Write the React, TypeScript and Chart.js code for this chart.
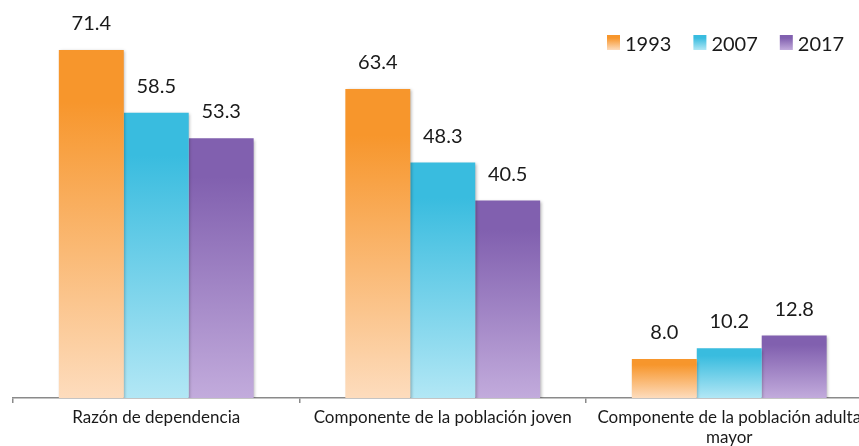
import React, { useEffect, useRef } from "react";
import { Chart, registerables } from "chart.js";

Chart.register(...registerables);

const categories: (string | string[])[] = [
  "Razón de dependencia",
  "Componente de la población joven",
  ["Componente de la población adulta", "mayor"],
];
const seriesLabels = ["1993", "2007", "2017"];
const values1993 = [71.4, 63.4, 8.0];
const values2007 = [58.5, 48.3, 10.2];
const values2017 = [53.3, 40.5, 12.8];
const yMin = 0;
const yMax = 80;

const palette = [
  { top: "#F7962C", bottom: "#FDDCBD" },
  { top: "#39BCDF", bottom: "#B2E7F5" },
  { top: "#8160AF", bottom: "#C2ABDC" },
];

const FONT = "Lato, 'Liberation Sans', sans-serif";

function gradientFill(idx: number) {
  return (ctx: any) => {
    const chart = ctx.chart;
    const y = chart.scales?.y;
    const c = palette[idx];
    if (!y || ctx.type !== "data") return c.top;
    const v = ctx.raw as number;
    const top = y.getPixelForValue(v);
    const bottom = y.getPixelForValue(0);
    if (!isFinite(top) || !isFinite(bottom) || top === bottom) return c.top;
    const g = chart.ctx.createLinearGradient(0, top, 0, bottom);
    g.addColorStop(0, c.top);
    g.addColorStop(0.15, c.top);
    g.addColorStop(1, c.bottom);
    return g;
  };
}

const shadowPlugin = {
  id: "barShadow",
  beforeDatasetsDraw(chart: any) {
    const ctx = chart.ctx;
    ctx.save();
    ctx.shadowColor = "rgba(0,0,0,0.28)";
    ctx.shadowBlur = 3;
    ctx.shadowOffsetX = 1.5;
    ctx.shadowOffsetY = 1.5;
  },
  afterDatasetsDraw(chart: any) {
    chart.ctx.restore();
  },
};

const labelPlugin = {
  id: "valueLabels",
  afterDatasetsDraw(chart: any) {
    const ctx = chart.ctx;
    ctx.save();
    ctx.font = `20px ${FONT}`;
    ctx.fillStyle = "#1a1a1a";
    ctx.textAlign = "center";
    ctx.textBaseline = "alphabetic";
    chart.data.datasets.forEach((ds: any, i: number) => {
      const meta = chart.getDatasetMeta(i);
      meta.data.forEach((el: any, j: number) => {
        const v = ds.data[j] as number;
        ctx.fillText(v.toFixed(1), el.x, el.y - 20);
      });
    });
    ctx.restore();
  },
};

const legendPlugin = {
  id: "customLegend",
  afterDraw(chart: any) {
    const ctx = chart.ctx;
    ctx.save();
    ctx.font = `20px ${FONT}`;
    ctx.textBaseline = "alphabetic";
    ctx.textAlign = "left";
    let x = 607;
    const boxTop = 35;
    const boxH = 15;
    const boxW = 13;
    chart.data.datasets.forEach((ds: any, i: number) => {
      const c = palette[i];
      const g = ctx.createLinearGradient(0, boxTop, 0, boxTop + boxH);
      g.addColorStop(0, c.top);
      g.addColorStop(0.2, c.top);
      g.addColorStop(1, c.bottom);
      ctx.fillStyle = g;
      ctx.fillRect(x, boxTop, boxW, boxH);
      ctx.fillStyle = "#1a1a1a";
      const tx = x + boxW + 5;
      ctx.fillText(ds.label, tx, 51);
      x = tx + ctx.measureText(ds.label).width + 22;
    });
    ctx.restore();
  },
};

export default function App() {
  const ref = useRef<HTMLCanvasElement | null>(null);
  useEffect(() => {
    if (!ref.current) return;
    const chart = new Chart(ref.current, {
      type: "bar",
      data: {
        labels: categories as any,
        datasets: [
          { label: seriesLabels[0], data: values1993, backgroundColor: gradientFill(0) as any },
          { label: seriesLabels[1], data: values2007, backgroundColor: gradientFill(1) as any },
          { label: seriesLabels[2], data: values2017, backgroundColor: gradientFill(2) as any },
        ],
      },
      options: {
        responsive: false,
        animation: false,
        devicePixelRatio: 1,
        layout: { padding: { left: 13, right: 7.5, top: 8, bottom: 0 } },
        datasets: {
          bar: { categoryPercentage: 0.68, barPercentage: 1, borderWidth: 0 },
        },
        plugins: {
          legend: { display: false },
          tooltip: { enabled: false },
          title: { display: false },
        },
        scales: {
          x: {
            offset: true,
            grid: {
              display: true,
              offset: true,
              drawOnChartArea: false,
              drawTicks: true,
              tickLength: 5,
              color: "#8a8a8a",
              lineWidth: 1.5,
            },
            border: { display: true, color: "#8a8a8a", width: 1.5 },
            ticks: {
              color: "#1a1a1a",
              font: { family: FONT, size: 17, lineHeight: 1.15 },
              padding: 5,
              maxRotation: 0,
              minRotation: 0,
              autoSkip: false,
            },
            afterFit: (scale: any) => {
              scale.height = 48;
            },
          },
          y: {
            display: false,
            min: yMin,
            max: yMax,
          },
        },
      },
      plugins: [shadowPlugin, labelPlugin, legendPlugin],
    });
    return () => chart.destroy();
  }, []);
  return (
    <div
      style={{
        position: "fixed",
        left: 0,
        top: 0,
        width: 859,
        height: 446,
        overflow: "hidden",
        background: "#fff",
      }}
    >
      <canvas ref={ref} width={880} height={446} style={{ display: "block" }} />
    </div>
  );
}
